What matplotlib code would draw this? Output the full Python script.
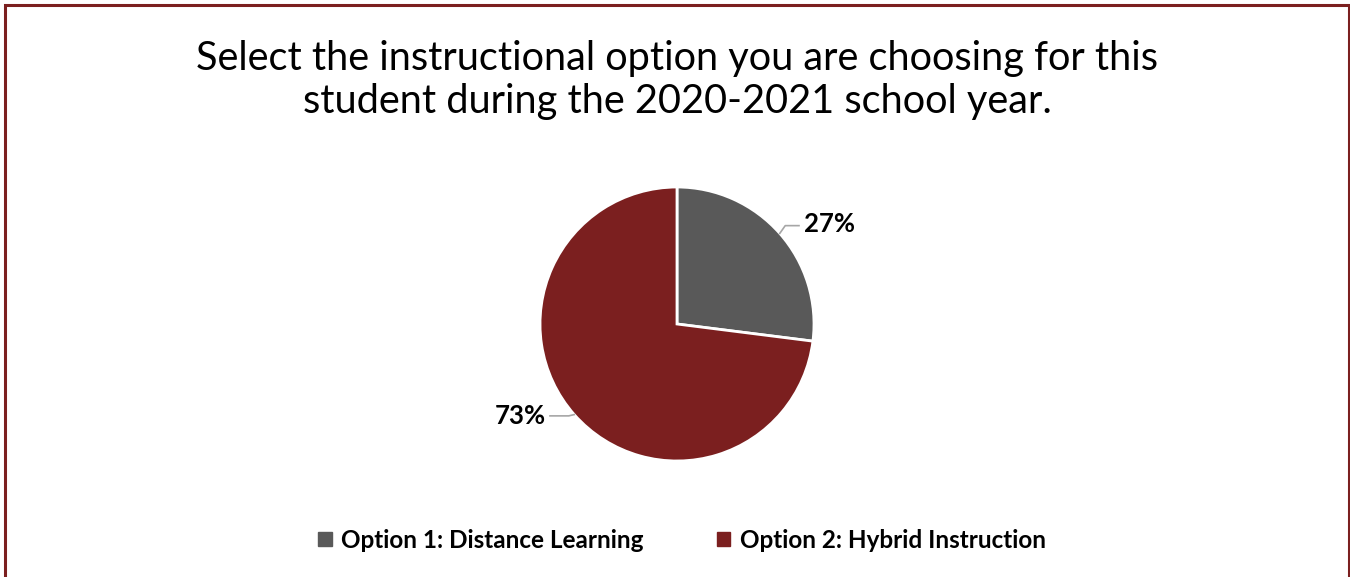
import numpy as np
import matplotlib
matplotlib.use("Agg")
import matplotlib.pyplot as plt
from matplotlib.patches import Rectangle

title = "Select the instructional option you are choosing for this\nstudent during the 2020-2021 school year."
categories = ["Option 1: Distance Learning", "Option 2: Hybrid Instruction"]
values = [27, 73]
colors = ["#595959", "#7B1F1F"]
label_shift_deg = [-8, -11]

plt.rcParams['font.family'] = ['Lato', 'DejaVu Sans']

W, H = 1350, 577
fig = plt.figure(figsize=(W / 100, H / 100), dpi=100)

# border
fig.patches.append(Rectangle((5 / W, -0.01), (W - 6) / W, 1.01 - 5 / H, transform=fig.transFigure,
                             fill=False, edgecolor="#7B1F1F", linewidth=2.2))

fig.text(677 / W, 1 - 80 / H, title, ha="center", va="center", fontsize=28.6, color="#000000",
         linespacing=1.2)

R = 137
cx, cy = 677, 324
half = 1.5 * R
ax = fig.add_axes([(cx - half) / W, (H - cy - half) / H, 2 * half / W, 2 * half / H])
wedges, _ = ax.pie(values, colors=colors, startangle=90, counterclock=False,
                   wedgeprops=dict(edgecolor="white", linewidth=2), radius=1.0)
ax.set_xlim(-1.5, 1.5)
ax.set_ylim(-1.5, 1.5)
ax.set_aspect("equal")
ax.axis("off")

for w, v, sh in zip(wedges, values, label_shift_deg):
    mid = np.deg2rad((w.theta1 + w.theta2) / 2)
    lab = np.deg2rad((w.theta1 + w.theta2) / 2 + sh)
    x0, y0 = 1.0 * np.cos(mid), 1.0 * np.sin(mid)
    lx, ly = 1.33 * np.cos(lab), 1.33 * np.sin(lab)
    side = np.sign(lx)
    x1, y1 = x0 + side * 0.04, y0 + (ly - y0) * 0.8
    x2 = lx - side * 0.22
    ax.plot([x0, x1, x2], [y0, y1, y1], color="#A6A6A6", lw=1.2, clip_on=False)
    ax.text(lx, ly, f"{v}%", ha="center", va="center", fontsize=18.5, fontweight="bold",
            color="#000000")

handles = [Rectangle((0, 0), 1, 1, color=c) for c in colors]
fig.legend(handles, categories, loc="center", bbox_to_anchor=(682 / W, 1 - 540 / H), ncol=2,
           frameon=False, prop=dict(size=17.5, weight="bold"), handlelength=0.55, handleheight=0.55,
           handletextpad=0.4, columnspacing=3.0)

fig.savefig("out.png", dpi=100, facecolor="white")
